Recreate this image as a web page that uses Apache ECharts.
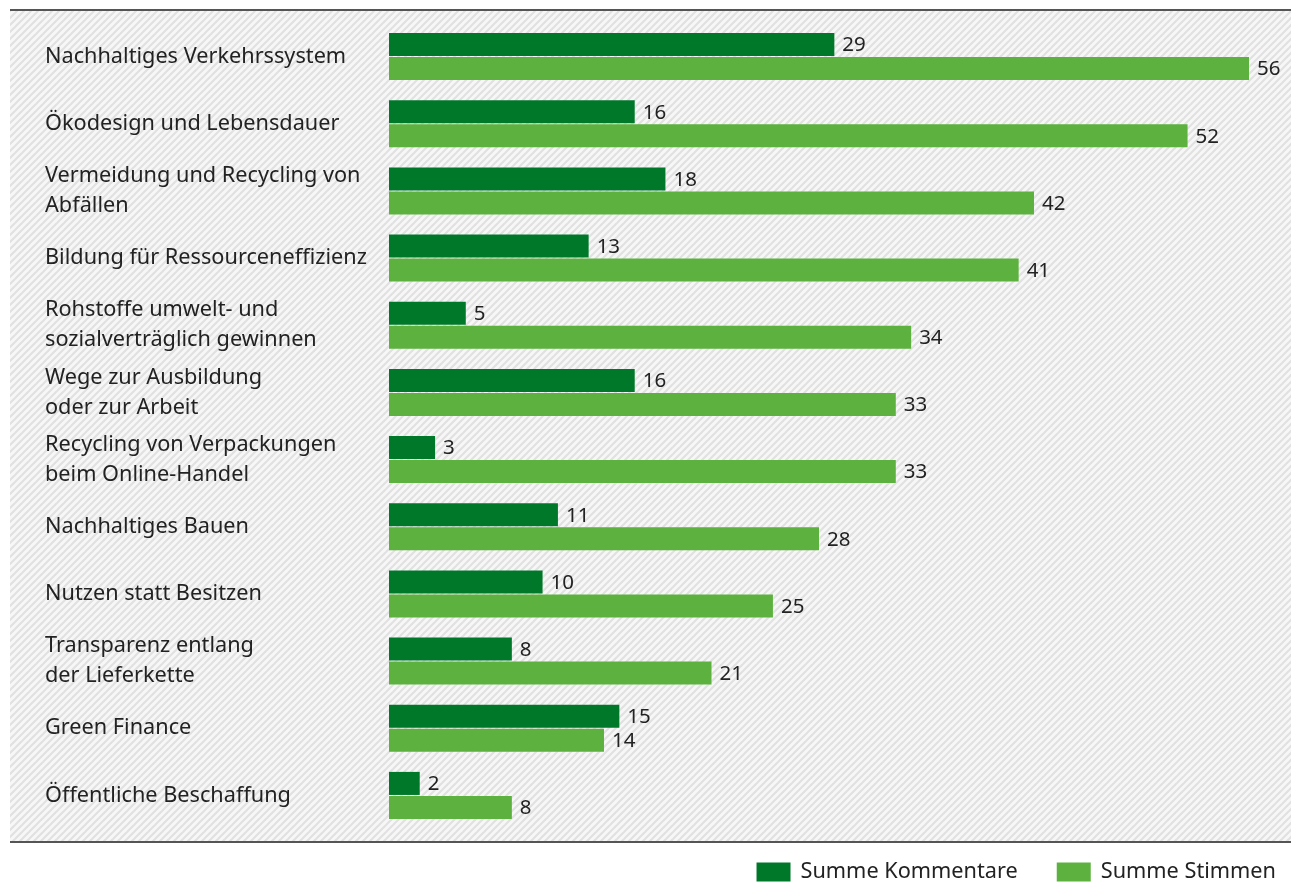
<!DOCTYPE html>
<html><head><meta charset="utf-8">
<script src="https://cdn.jsdelivr.net/npm/echarts@6/dist/echarts.min.js"></script>
<style>html,body{margin:0;padding:0;background:#fff}#c{width:1291px;height:883px}</style>
</head><body><div id="c"></div>
<script>
var categories = ["Nachhaltiges Verkehrssystem","Ökodesign und Lebensdauer","Vermeidung und Recycling von\nAbfällen","Bildung für Ressourceneffizienz","Rohstoffe umwelt- und\nsozialverträglich gewinnen","Wege zur Ausbildung\noder zur Arbeit","Recycling von Verpackungen\nbeim Online-Handel","Nachhaltiges Bauen","Nutzen statt Besitzen","Transparenz entlang\nder Lieferkette","Green Finance","Öffentliche Beschaffung"];
var kommentare = [29,16,18,13,5,16,3,11,10,8,15,2];
var stimmen = [56,52,42,41,34,33,33,28,25,21,14,8];

var FONT = 'Noto Sans';
var FS = 21.7;
var FSV = 20.5;
var cv = document.createElement('canvas');
cv.width = 7; cv.height = 7;
var cx = cv.getContext('2d');
cx.fillStyle = '#f7f7f7'; cx.fillRect(0,0,7,7);
cx.strokeStyle = '#e1e1e1'; cx.lineWidth = 2.2;
for (var k=-1;k<=1;k++){cx.beginPath();cx.moveTo(-1+k*7,8);cx.lineTo(8+k*7,-1);cx.stroke();}

var chart = echarts.init(document.getElementById('c'));
chart.setOption({
  animation:false,
  textStyle:{fontFamily:FONT},
  graphic:[
    {type:'rect',z:-10,silent:true,shape:{x:10,y:10,width:1281,height:832},style:{fill:{image:cv,repeat:'repeat'}}},
    {type:'line',z:10,silent:true,shape:{x1:10,y1:10,x2:1291,y2:10},style:{stroke:'#555',lineWidth:2}},
    {type:'line',z:10,silent:true,shape:{x1:10,y1:842,x2:1291,y2:842},style:{stroke:'#555',lineWidth:2}}
  ],
  legend:{right:15,top:861,itemWidth:34,itemHeight:19,itemGap:39,icon:'rect',padding:0,
    textStyle:{fontFamily:FONT,fontSize:FS,color:'#222',padding:[0,0,0,5]},
    data:['Summe Kommentare','Summe Stimmen']},
  grid:{left:389,right:42,top:23,bottom:883-829,containLabel:false},
  xAxis:{type:'value',min:0,max:56,show:false,splitLine:{show:false}},
  yAxis:{type:'category',inverse:true,data:categories,
    axisLine:{show:false},axisTick:{show:false},
    axisLabel:{align:'left',margin:344,fontFamily:FONT,fontSize:FS,color:'#222',lineHeight:30}},
  series:[
    {name:'Summe Kommentare',type:'bar',data:kommentare,barGap:'4%',barCategoryGap:'30%',
      itemStyle:{color:'#00782a'},
      label:{show:true,position:'right',distance:8,fontFamily:FONT,fontSize:FSV,color:'#222',offset:[0,1]}},
    {name:'Summe Stimmen',type:'bar',data:stimmen,
      itemStyle:{color:'#5db13e'},
      label:{show:true,position:'right',distance:8,fontFamily:FONT,fontSize:FSV,color:'#222',offset:[0,1]}}
  ]
});
</script></body></html>
